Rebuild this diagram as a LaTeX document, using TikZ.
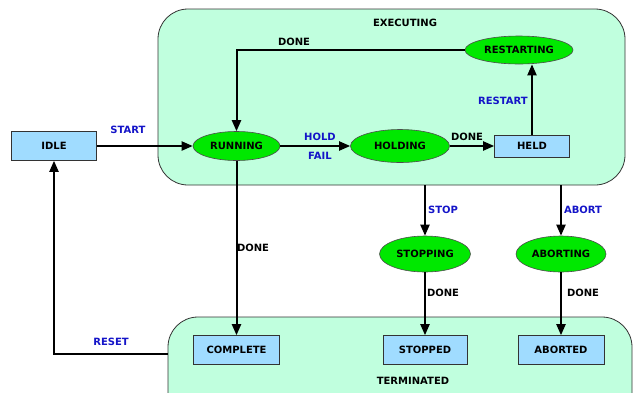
\documentclass[tikz,border=0pt]{standalone}
\usepackage{fontspec}
\setmainfont{DejaVu Sans}
\usetikzlibrary{arrows.meta}
\usetikzlibrary{shapes.geometric}

\definecolor{regionfill}{RGB}{192,255,222}
\definecolor{statefill}{RGB}{0,232,0}
\definecolor{boxfill}{RGB}{160,220,255}
\definecolor{eventblue}{RGB}{20,20,200}

\tikzset{
    region/.style={draw=black!80, line width=0.8pt, fill=regionfill, rounded corners=30pt, inner sep=0pt},
    busy/.style={ellipse, draw=black!70, line width=0.6pt, fill=statefill, inner sep=0pt},
    rest/.style={rectangle, draw=black!80, line width=0.6pt, fill=boxfill, inner sep=0pt, minimum height=29pt},
    txt/.style={font=\fontsize{10}{11}\selectfont\bfseries},
    evt/.style={txt, text=eventblue},
    arr/.style={line width=2pt, -{Triangle[length=11pt,width=9pt]}}
}

\begin{document}
\begin{tikzpicture}[x=1pt, y=-1pt]
    \useasboundingbox (0,0) rectangle (633,392);

    % Regions
    \node[region, minimum width=467pt, minimum height=176pt] (exec) at (391.5,97) {};
    \node[region, minimum width=464pt, minimum height=110pt] (term) at (400,372) {};
    \node[txt] (execlbl) at (405,23) {EXECUTING};
    \node[txt] (termlbl) at (413,381) {TERMINATED};

    % States
    \node[rest, txt, minimum width=85pt] (idle) at (54,146) {IDLE};
    \node[busy, txt, minimum width=87pt, minimum height=29pt] (running) at (236.5,146) {RUNNING};
    \node[busy, txt, minimum width=99pt, minimum height=33pt] (holding) at (400,146) {HOLDING};
    \node[rest, txt, minimum width=75pt, minimum height=22pt] (held) at (532,146) {HELD};
    \node[busy, txt, minimum width=108pt, minimum height=28pt] (restarting) at (519,50) {RESTARTING};
    \node[busy, txt, minimum width=91pt, minimum height=36pt] (stopping) at (425,254) {STOPPING};
    \node[busy, txt, minimum width=90pt, minimum height=36pt] (aborting) at (561,254) {ABORTING};
    \node[rest, txt, minimum width=86pt] (complete) at (236.5,350) {COMPLETE};
    \node[rest, txt, minimum width=84pt] (stopped) at (425,350) {STOPPED};
    \node[rest, txt, minimum width=86pt] (aborted) at (561,350) {ABORTED};

    % Transitions
    \draw[arr] (idle) -- (running);
    \node[evt] (startlbl) at (128,130) {START};
    \draw[arr] (running) -- (holding);
    \node[evt] (holdlbl) at (320,137) {HOLD};
    \node[evt] (faillbl) at (320,156) {FAIL};
    \draw[arr] (holding) -- (held);
    \node[txt] (donea) at (467,137) {DONE};
    \draw[arr] (held) -- (held |- restarting.south);
    \node[evt] (restartlbl) at (503,101) {RESTART};
    \draw[arr] (restarting.west) -- (running |- restarting.west) -- (running);
    \node[txt] (doneb) at (294,42) {DONE};
    \draw[arr] (running) -- (complete);
    \node[txt] (donec) at (253,248) {DONE};

    % Leaving the executing region
    \draw[arr] (stopping |- exec.south) -- (stopping);
    \node[evt] (stoplbl) at (443,210) {STOP};
    \draw[arr] (aborting |- exec.south) -- (aborting);
    \node[evt] (abortlbl) at (583,210) {ABORT};
    \draw[arr] (stopping) -- (stopped);
    \node[txt] (doned) at (443,293) {DONE};
    \draw[arr] (aborting) -- (aborted);
    \node[txt] (donee) at (583,293) {DONE};

    % Reset
    \coordinate (resetfrom) at (term.west |- 0,354);
    \draw[arr] (resetfrom) -- (idle |- resetfrom) -- (idle);
    \node[evt] (resetlbl) at (111,342) {RESET};
\end{tikzpicture}
\end{document}
